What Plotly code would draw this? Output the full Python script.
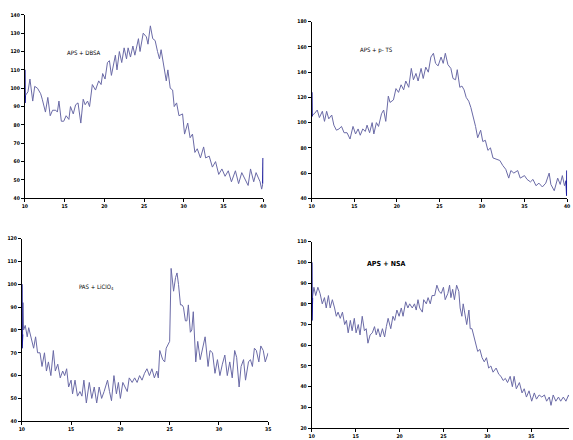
import plotly.graph_objects as go

# ---------- data ----------
x1 = [10.0, 10.02, 10.04, 10.07, 10.4, 10.65, 11.0, 11.25, 11.6, 12.0, 12.2, 12.6, 12.9, 13.2, 13.5, 13.9, 14.1, 14.3, 14.6, 14.9,
      15.2, 15.55, 15.75, 16.1, 16.4, 16.7, 17.05, 17.35, 17.6, 17.9, 18.15, 18.5, 18.9, 19.3, 19.6, 19.8, 20.1, 20.4, 20.65, 20.9,
      21.4, 21.6, 21.9, 22.2, 22.5, 22.8, 23.0, 23.3, 23.6, 23.85, 24.3, 24.5, 24.9, 25.3, 25.5, 25.8, 26.1, 26.4, 26.7, 26.95,
      27.15, 27.5, 27.8, 28.0, 28.3, 28.6, 28.8, 29.1, 29.4, 29.85, 30.1, 30.5, 30.8, 31.1, 31.4, 31.7, 32.1, 32.5, 32.75, 33.2,
      33.6, 34.0, 34.4, 34.8, 35.2, 35.6, 36.0, 36.5, 36.9, 37.3, 37.7, 38.1, 38.4, 38.8, 39.1, 39.6, 39.8, 39.95, 39.98, 40.0]
y1 = [110, 92, 108, 96, 98, 105, 93, 101, 100, 97, 94, 87, 95, 85, 88, 88, 87, 93, 82, 82,
      85, 83, 90, 86, 91, 92, 81, 94, 91, 93, 90, 102, 99, 104, 102, 108, 105, 114, 115, 107,
      118, 110, 120, 114, 122, 116, 122, 117, 123, 118, 127, 120, 130, 128, 124, 134, 127, 126, 120, 116,
      121, 111, 104, 110, 100, 99, 90, 92, 85, 86, 75, 81, 73, 75, 65, 67, 62, 68, 62, 63,
      57, 60, 53, 56, 52, 55, 49, 55, 48, 54, 50, 47, 56, 49, 54, 49, 45, 48, 60, 62]

x2 = [10.0, 10.02, 10.04, 10.07, 10.3, 10.65, 10.9, 11.25, 11.5, 11.75, 12.0, 12.35, 12.6, 12.9, 13.2, 13.5, 13.8, 14.15, 14.5, 14.85,
      15.15, 15.45, 15.7, 16.0, 16.3, 16.5, 16.8, 17.1, 17.3, 17.6, 17.85, 18.2, 18.45, 18.7, 19.0, 19.2, 19.6, 19.9, 20.2, 20.5,
      20.8, 21.05, 21.4, 21.7, 21.95, 22.25, 22.5, 22.85, 23.1, 23.4, 23.7, 24.0, 24.3, 24.55, 24.85, 25.2, 25.45, 25.7, 26.0, 26.35,
      26.6, 26.9, 27.1, 27.4, 27.65, 27.9, 28.15, 28.45, 28.7, 28.95, 29.25, 29.5, 29.85, 30.1, 30.4, 30.7, 31.0, 31.3, 31.7, 32.1,
      32.45, 32.8, 33.15, 33.4, 33.75, 34.2, 34.5, 35.0, 35.3, 35.7, 36.0, 36.35, 36.7, 37.1, 37.5, 37.9, 38.1, 38.5, 38.9, 39.2,
      39.45, 39.7, 39.9, 39.97, 40.0]
y2 = [124, 105, 118, 106, 107, 110, 104, 109, 101, 109, 103, 106, 98, 94, 95, 97, 92, 92, 87, 97,
      91, 95, 90, 95, 93, 98, 92, 100, 91, 100, 97, 107, 110, 101, 121, 116, 118, 127, 124, 130,
      126, 133, 128, 143, 134, 139, 133, 143, 135, 144, 140, 152, 155, 147, 145, 152, 147, 155, 146, 143,
      135, 134, 142, 128, 129, 126, 120, 117, 112, 106, 97, 88, 94, 85, 86, 78, 80, 72, 71, 70,
      66, 63, 56, 62, 60, 62, 56, 58, 55, 53, 55, 50, 52, 49, 52, 60, 51, 46, 56, 51,
      58, 50, 54, 42, 62]

x3 = [10.0, 10.02, 10.05, 10.08, 10.12, 10.18, 10.35, 10.55, 10.7, 10.95, 11.2, 11.4, 11.6, 11.85, 12.05, 12.3, 12.5, 12.7, 12.95, 13.2,
      13.4, 13.65, 13.9, 14.15, 14.35, 14.55, 14.75, 15.0, 15.15, 15.4, 15.65, 15.9, 16.1, 16.3, 16.55, 16.85, 17.1, 17.35, 17.6, 17.85,
      18.1, 18.35, 18.7, 18.9, 19.1, 19.35, 19.6, 19.8, 20.0, 20.25, 20.45, 20.7, 20.9, 21.2, 21.45, 21.7, 21.95, 22.2, 22.45, 22.7,
      22.95, 23.2, 23.45, 23.7, 23.85, 24.0, 24.3, 24.5, 24.65, 24.9, 25.0, 25.15, 25.4, 25.6, 25.75, 25.9, 26.1, 26.25, 26.4, 26.6,
      26.75, 26.9, 27.1, 27.25, 27.4, 27.65, 27.85, 28.1, 28.35, 28.6, 28.9, 29.1, 29.35, 29.6, 29.85, 30.1, 30.35, 30.6, 30.85, 31.1,
      31.35, 31.6, 31.8, 32.05, 32.25, 32.5, 32.7, 33.0, 33.2, 33.4, 33.6, 33.8, 34.05, 34.25, 34.5, 34.7, 35.0]
y3 = [100, 72, 94, 78, 92, 80, 82, 77, 81, 76, 72, 77, 70, 70, 64, 70, 62, 66, 60, 71,
      62, 65, 59, 62, 60, 63, 55, 58, 52, 58, 51, 53, 51, 58, 48, 57, 50, 55, 48, 55,
      50, 53, 58, 53, 49, 60, 52, 57, 50, 57, 55, 53, 59, 57, 59, 57, 60, 58, 61, 63,
      60, 63, 59, 62, 59, 71, 67, 66, 72, 74, 75, 107, 97, 103, 105, 100, 91, 91, 90, 84,
      84, 91, 79, 80, 88, 66, 75, 67, 72, 77, 64, 71, 70, 61, 67, 60, 65, 69, 60, 66,
      59, 71, 68, 55, 64, 67, 58, 66, 67, 64, 72, 71, 66, 73, 71, 66, 70]

x4 = [10.0, 10.02, 10.05, 10.08, 10.25, 10.45, 10.7, 10.95, 11.2, 11.45, 11.65, 11.9, 12.1, 12.35, 12.6, 12.8, 13.0, 13.25, 13.5, 13.75,
      13.95, 14.15, 14.4, 14.6, 14.85, 15.05, 15.3, 15.5, 15.75, 16.0, 16.2, 16.4, 16.65, 16.9, 17.15, 17.35, 17.55, 17.8, 18.05, 18.3,
      18.5, 18.7, 19.0, 19.25, 19.45, 19.7, 19.95, 20.2, 20.4, 20.7, 20.95, 21.15, 21.45, 21.7, 21.9, 22.1, 22.3, 22.6, 22.75, 23.05,
      23.25, 23.5, 23.7, 24.0, 24.25, 24.5, 24.75, 25.0, 25.2, 25.5, 25.7, 25.85, 26.05, 26.25, 26.5, 26.75, 26.9, 27.1, 27.25, 27.5,
      27.65, 27.9, 28.05, 28.25, 28.5, 28.7, 28.9, 29.15, 29.4, 29.65, 29.9, 30.15, 30.4, 30.65, 31.0, 31.3, 31.55, 31.8, 32.05, 32.3,
      32.6, 32.85, 33.05, 33.3, 33.65, 33.95, 34.2, 34.45, 34.75, 35.05, 35.35, 35.6, 35.9, 36.2, 36.5, 36.75, 37.05, 37.25, 37.5, 37.8,
      38.1, 38.35, 38.65, 38.95, 39.25, 39.55]
y4 = [100, 72, 95, 83, 88, 84, 88, 85, 80, 83, 78, 84, 78, 82, 78, 74, 76, 73, 76, 70,
      72, 66, 72, 67, 73, 66, 70, 65, 74, 67, 68, 61, 65, 66, 69, 65, 68, 64, 68, 64,
      69, 73, 68, 74, 72, 77, 74, 78, 74, 81, 78, 80, 78, 80, 77, 82, 78, 76, 82, 80,
      83, 80, 84, 84, 89, 86, 85, 88, 82, 85, 89, 83, 87, 82, 89, 86, 78, 74, 80, 74,
      70, 77, 68, 68, 64, 60, 57, 58, 54, 52, 54, 49, 50, 47, 49, 46, 45, 43, 44, 42,
      45, 40, 45, 39, 42, 37, 39, 35, 38, 33, 37, 34, 36, 35, 36, 33, 35, 31, 36, 33,
      35, 33, 35, 33, 36, 33]

titles = ["APS + DBSA", "APS + p- TS", "PAS + LiClO<sub>4</sub>", "<b>APS + NSA</b>"]
y_ticks = [[40, 50, 60, 70, 80, 90, 100, 110, 120, 130, 140],
           [40, 60, 80, 100, 120, 140, 160, 180],
           [40, 50, 60, 70, 80, 90, 100, 110, 120],
           [20, 30, 40, 50, 60, 70, 80, 90, 100, 110]]
x_ticks = [10, 15, 20, 25, 30, 35, 40]

# ---------- layout geometry ----------
W, H = 573, 440
panels = [
    dict(x=x1, y=y1, xr=[10, 40], yr=[40, 140], px=(22, 263), py=(12, 198), tpos=(82, 50), tail=True),
    dict(x=x2, y=y2, xr=[10, 40], yr=[40, 180], px=(312, 570), py=(19, 198), tpos=(377, 48), tail=True),
    dict(x=x3, y=y3, xr=[10, 35], yr=[40, 120], px=(19, 268), py=(239, 424), tpos=(94, 288), tail=False),
    dict(x=x4, y=y4, xr=[10, 39.3], yr=[20, 110], px=(312, 572), py=(242, 431), tpos=(387, 265), tail=False),
]

LINE = "#6a6aa6"
DARK = "#1c1ca0"
FONT = "Liberation Sans Narrow, Arial Narrow, DejaVu Sans Condensed, sans-serif"

fig = go.Figure()
layout = dict(width=W, height=H, margin=dict(l=0, r=0, t=0, b=0),
              paper_bgcolor="white", plot_bgcolor="white", showlegend=False)
annotations = []

for i, p in enumerate(panels):
    n = i + 1
    xa = "x" if n == 1 else f"x{n}"
    ya = "y" if n == 1 else f"y{n}"
    fig.add_trace(go.Scatter(x=p["x"], y=p["y"], mode="lines", xaxis=xa, yaxis=ya,
                             line=dict(color=LINE, width=1), hoverinfo="skip"))
    fig.add_trace(go.Scatter(x=p["x"][:4], y=p["y"][:4], mode="lines", xaxis=xa, yaxis=ya,
                             line=dict(color=DARK, width=1.5), hoverinfo="skip"))
    if p["tail"]:
        fig.add_trace(go.Scatter(x=p["x"][-3:], y=p["y"][-3:], mode="lines", xaxis=xa, yaxis=ya,
                                 line=dict(color=DARK, width=1.5), hoverinfo="skip"))
    axis_common = dict(showline=True, linecolor="black", linewidth=1, showgrid=False, zeroline=False,
                       ticks="outside", ticklen=3, tickwidth=1, tickcolor="black",
                       tickfont=dict(family=FONT, size=5, color="black", weight="bold"))
    layout["xaxis" if n == 1 else f"xaxis{n}"] = dict(
        domain=[p["px"][0] / W, p["px"][1] / W], range=p["xr"], anchor=ya,
        tickvals=[t for t in x_ticks if t <= p["xr"][1]], **axis_common)
    layout["yaxis" if n == 1 else f"yaxis{n}"] = dict(
        domain=[1 - p["py"][1] / H, 1 - p["py"][0] / H], range=p["yr"], anchor=xa,
        tickvals=y_ticks[i], **axis_common)
    annotations.append(dict(x=p["tpos"][0] / W, y=1 - p["tpos"][1] / H, xref="paper", yref="paper",
                            text=titles[i], showarrow=False, xanchor="center", yanchor="middle",
                            font=dict(family=FONT, size=6 if n < 4 else 7, color="black")))

layout["annotations"] = annotations
fig.update_layout(**layout)
fig.write_html("out.html")
